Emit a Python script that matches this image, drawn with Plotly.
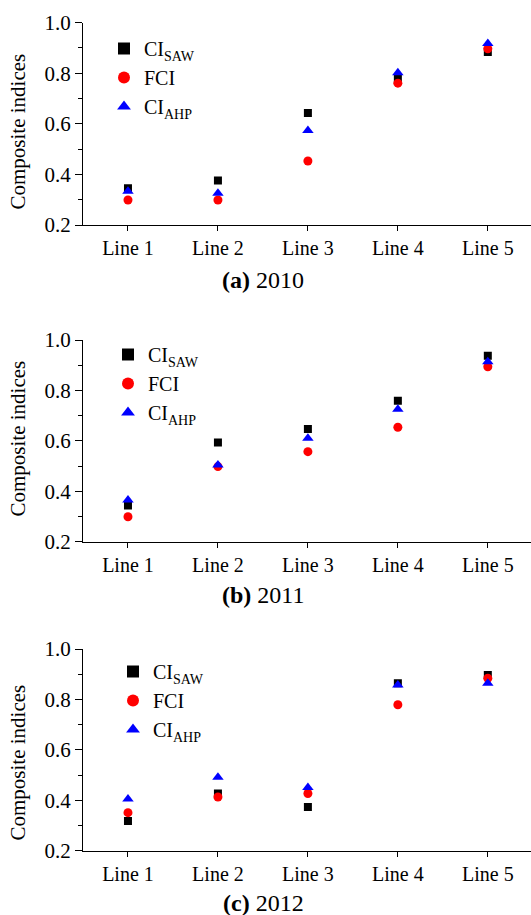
import plotly.graph_objects as go

categories = ["Line 1", "Line 2", "Line 3", "Line 4", "Line 5"]
years = ["2010", "2011", "2012"]
panel_letters = ["a", "b", "c"]

saw_2010 = [0.345, 0.376, 0.643, 0.777, 0.884]
fci_2010 = [0.299, 0.299, 0.453, 0.761, 0.897]
ahp_2010 = [0.333, 0.326, 0.574, 0.802, 0.918]

saw_2011 = [0.344, 0.593, 0.647, 0.759, 0.938]
fci_2011 = [0.299, 0.498, 0.557, 0.654, 0.894]
ahp_2011 = [0.365, 0.504, 0.610, 0.725, 0.914]

saw_2012 = [0.318, 0.427, 0.373, 0.864, 0.897]
fci_2012 = [0.351, 0.413, 0.427, 0.779, 0.884]
ahp_2012 = [0.405, 0.491, 0.451, 0.857, 0.864]

series_names = ["CI<sub>SAW</sub>", "FCI", "CI<sub>AHP</sub>"]
y_ticks = [0.2, 0.4, 0.6, 0.8, 1.0]

panels = [
    (saw_2010, fci_2010, ahp_2010),
    (saw_2011, fci_2011, ahp_2011),
    (saw_2012, fci_2012, ahp_2012),
]

W, H = 531, 915
FONT = "Liberation Serif, Times New Roman, serif"

# pixel geometry of each panel: (top px of 1.0, bottom px of 0.2)
panel_px = [(22.7, 225.0), (340.0, 541.7), (649.0, 850.7)]
axis_left_px = 83.0
legend_px = [(104, 29), (108, 335), (113, 652)]
title_y_px = [132, 439, 763]
caption_y_px = [280, 595, 903]

styles = [
    dict(symbol="square", color="#000000", size=8),
    dict(symbol="circle", color="#ff0000", size=9),
    dict(symbol="triangle-up", color="#0000ff", size=10),
]

fig = go.Figure()
x_idx = list(range(len(categories)))

for p, data in enumerate(panels):
    sfx = "" if p == 0 else str(p + 1)
    leg = "legend" if p == 0 else f"legend{p + 1}"
    for s, vals in enumerate(data):
        fig.add_trace(go.Scatter(
            x=x_idx, y=vals, mode="markers", name=series_names[s],
            xaxis="x" + sfx, yaxis="y" + sfx, legend=leg,
            legendgroup=f"g{p}{s}",
            marker=dict(symbol=styles[s]["symbol"], color=styles[s]["color"],
                        size=styles[s]["size"], line=dict(width=0)),
        ))

layout = dict(
    width=W, height=H,
    margin=dict(l=0, r=0, t=0, b=0),
    paper_bgcolor="white", plot_bgcolor="white",
    font=dict(family=FONT, size=20, color="black"),
    template="none",
    annotations=[],
)

for p in range(3):
    sfx = "" if p == 0 else str(p + 1)
    top, bot = panel_px[p]
    layout["xaxis" + sfx] = dict(
        domain=[axis_left_px / W, 1.0],
        range=[-0.5, 4.48],
        tickvals=x_idx, ticktext=categories,
        ticks="outside", ticklen=5, tickwidth=1, tickcolor="black",
        showline=True, linecolor="black", linewidth=1,
        showgrid=False, zeroline=False,
        anchor="y" + sfx,
        tickfont=dict(family=FONT, size=20, color="black"),
    )
    layout["yaxis" + sfx] = dict(
        domain=[(H - bot) / H, (H - top) / H],
        range=[0.2, 1.0],
        tickvals=y_ticks, tickformat=".1f",
        ticks="outside", ticklen=7, tickwidth=1, tickcolor="black",
        minor=dict(dtick=0.1, tick0=0.2, ticks="outside", ticklen=4, tickwidth=1, tickcolor="black"),
        showline=True, linecolor="black", linewidth=1,
        showgrid=False, zeroline=False,
        anchor="x" + sfx,
        tickfont=dict(family=FONT, size=21, color="black"),
    )
    lx, ly = legend_px[p]
    layout["legend" if p == 0 else f"legend{p + 1}"] = dict(
        x=lx / W, y=(H - ly) / H, xanchor="left", yanchor="top",
        bgcolor="rgba(0,0,0,0)", borderwidth=0,
        font=dict(family=FONT, size=20, color="black"),
        itemsizing="constant", tracegroupgap=0,
    )
    layout["annotations"].append(dict(
        text="Composite indices", textangle=-90, showarrow=False,
        xref="paper", yref="paper", x=17.5 / W, y=(H - title_y_px[p]) / H,
        xanchor="center", yanchor="middle",
        font=dict(family=FONT, size=21, color="black"),
    ))
    layout["annotations"].append(dict(
        text=f"<b>({panel_letters[p]})</b> {years[p]}", showarrow=False,
        xref="paper", yref="paper", x=263 / W, y=(H - caption_y_px[p]) / H,
        xanchor="center", yanchor="middle",
        font=dict(family=FONT, size=24, color="black"),
    ))

fig.update_layout(**layout)
fig.write_html("out.html")
